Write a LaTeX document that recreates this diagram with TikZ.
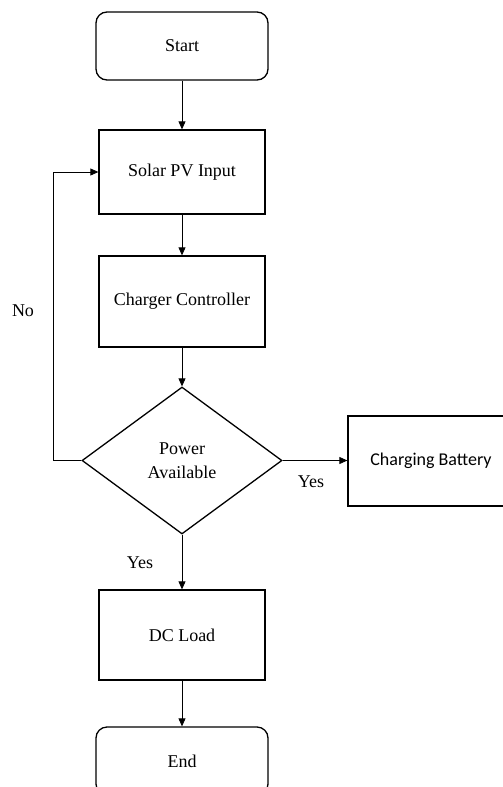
\documentclass[tikz,border=0pt]{standalone}
\usepackage{fontspec}
\setmainfont{Liberation Serif}
\newfontfamily\cbfont{Carlito}
\usetikzlibrary{shapes.geometric,arrows.meta}
\begin{document}
\begin{tikzpicture}[x=1pt,y=-1pt,
  every node/.style={font=\fontsize{18}{24}\selectfont},
  terminal/.style={draw,line width=1.3pt,rounded corners=11pt,minimum width=172pt,minimum height=68pt,inner sep=0pt},
  procbox/.style={draw,line width=1.3pt,minimum width=166pt,minimum height=90pt,inner sep=0pt},
  decision/.style={draw,line width=1.3pt,diamond,minimum width=200pt,minimum height=147pt,inner sep=0pt,align=center},
  conn/.style={line width=0.8pt,-{Triangle[length=8pt,width=7pt]}},
  lbl/.style={inner sep=0pt}]
\clip (0,0) rectangle (503,787);
\fill[white] (0,0) rectangle (503,787);
\node[terminal] (start) at (182,46) {Start};
\node[procbox,minimum height=84pt] (solar) at (182,172) {Solar PV Input};
\node[procbox,minimum height=91pt] (charger) at (182,301.5) {Charger Controller};
\node[decision] (power) at (182,460.5) {Power\\Available};
\node[procbox,font=\cbfont\fontsize{18}{24}\selectfont] (battery) at (431,461) {Charging Battery};
\node[procbox] (dcload) at (182,635) {DC Load};
\node[terminal] (end) at (182,761) {End};
\coordinate (loop) at (53,460.5);
\draw[conn] (start.south) -- (solar.north);
\draw[conn] (solar.south) -- (charger.north);
\draw[conn] (charger.south) -- (power.north);
\draw[conn] (power.east) -- (power.east -| battery.west);
\draw[conn] (power.south) -- (dcload.north);
\draw[conn] (dcload.south) -- (end.north);
\draw[conn] (power.west) -- (loop) |- (solar.west);
\node[lbl] (nolbl) at (23,311) {No};
\node[lbl] (yesright) at (311,482) {Yes};
\node[lbl] (yesdown) at (140,563) {Yes};
\end{tikzpicture}
\end{document}
